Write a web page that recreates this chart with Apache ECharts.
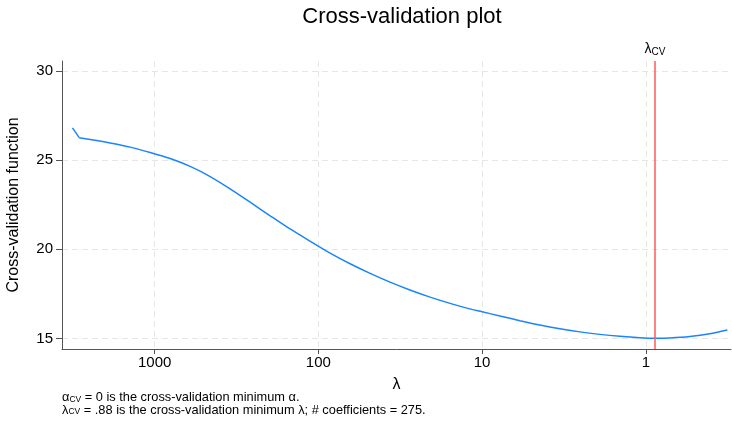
<!DOCTYPE html>
<html>
<head>
<meta charset="utf-8">
<script src="https://cdn.jsdelivr.net/npm/echarts@6/dist/echarts.min.js"></script>
<style>
html,body{margin:0;padding:0;background:#fff;}
#chart{width:732px;height:430px;}
</style>
</head>
<body>
<div id="chart"></div>
<script>
// Data
var lambdaValues = [3176, 2891, 2364, 1869, 1411, 1065, 804, 607, 458, 346, 261, 197, 149, 112, 84.8, 64.0, 48.3, 36.5, 27.6, 20.8, 15.7, 11.9, 10.0, 7.79, 5.88, 4.44, 3.35, 2.53, 1.91, 1.44, 1.09, 0.88, 0.714, 0.539, 0.407, 0.318];
var cvValues     = [26.81, 26.26, 26.13, 25.96, 25.73, 25.43, 25.09, 24.65, 24.08, 23.39, 22.64, 21.88, 21.14, 20.45, 19.79, 19.19, 18.65, 18.16, 17.72, 17.32, 16.97, 16.66, 16.50, 16.26, 16.00, 15.76, 15.55, 15.37, 15.23, 15.12, 15.04, 15.01, 15.03, 15.11, 15.26, 15.47];
var xTickValues = [1000, 100, 10, 1];
var yTickValues = [15, 20, 25, 30];
var lambdaCV = 0.88;
var titleText = 'Cross-validation plot';
var yAxisTitle = 'Cross-validation function';
var xAxisTitle = 'λ';

var FONT = '"Liberation Sans", Arial, sans-serif';
var chart = echarts.init(document.getElementById('chart'), null, {renderer: 'canvas'});

var points = lambdaValues.map(function (l, i) { return [l, cvValues[i]]; });
var headPoints = points.slice(0, 2);
var bodyPoints = points.slice(1);

chart.setOption({
  animation: false,
  backgroundColor: '#ffffff',
  title: {
    text: titleText,
    left: 397, top: 1, textAlign: 'center',
    textStyle: {fontFamily: FONT, fontSize: 22, fontWeight: 'normal', color: '#000'}
  },
  grid: {left: 62, right: 1, top: 61, bottom: 81, containLabel: false, outerBoundsMode: 'none'},
  xAxis: {
    type: 'log', logBase: 10, inverse: true,
    min: 0.302, max: 3680,
    name: xAxisTitle, nameLocation: 'middle', nameGap: 28,
    nameTextStyle: {fontFamily: FONT, fontSize: 16, color: '#000'},
    axisLine: {show: true, onZero: false, lineStyle: {color: '#555', width: 1}},
    axisTick: {show: true, length: 5, customValues: xTickValues, lineStyle: {color: '#555'}},
    axisLabel: {customValues: xTickValues, fontFamily: FONT, fontSize: 15, color: '#000', margin: 6,
      formatter: function (v) { return String(v); }},
    splitLine: {show: true, lineStyle: {color: '#e6e6e6', type: [6, 4], width: 1}},
    minorTick: {show: false}
  },
  yAxis: {
    type: 'value', min: 14.41, max: 30.56,
    name: yAxisTitle, nameLocation: 'middle', nameGap: 40, nameRotate: 90,
    nameTextStyle: {fontFamily: FONT, fontSize: 16, color: '#000'},
    axisLine: {show: true, onZero: false, lineStyle: {color: '#555', width: 1}},
    axisTick: {show: true, length: 6, customValues: yTickValues, lineStyle: {color: '#555'}},
    axisLabel: {customValues: yTickValues, fontFamily: FONT, fontSize: 15, color: '#000', margin: 9},
    splitLine: {show: true, lineStyle: {color: '#e6e6e6', type: [6, 4], width: 1}}
  },
  series: [{
    type: 'line',
    data: headPoints,
    showSymbol: false,
    lineStyle: {color: '#1a85ff', width: 1.5}
  }, {
    type: 'line',
    data: bodyPoints,
    showSymbol: false,
    smooth: 0.25,
    lineStyle: {color: '#1a85ff', width: 1.5},
    markLine: {
      silent: true,
      symbol: ['none', 'none'],
      lineStyle: {color: '#ff5a5a', width: 1.5, type: 'solid'},
      label: {
        show: true, position: 'end', distance: 4,
        formatter: '{l|λ}{s|CV}',
        rich: {
          l: {fontFamily: FONT, fontSize: 14, color: '#000'},
          s: {fontFamily: FONT, fontSize: 10, color: '#000', verticalAlign: 'bottom', padding: [6, 0, 0, 0]}
        }
      },
      data: [{xAxis: lambdaCV}]
    }
  }],
  graphic: [{
    type: 'text', left: 62, top: 391,
    style: {
      text: '{g|α}{s|CV}{t| = 0 is the cross-validation minimum α.}\n{g|λ}{s|CV}{t| = .88 is the cross-validation minimum λ; # coefficients = 275.}',
      rich: {
        g: {fontFamily: FONT, fontSize: 12.8, color: '#000', lineHeight: 12.5},
        s: {fontFamily: FONT, fontSize: 8.5, color: '#000', lineHeight: 12.5, padding: [4, 0, 0, 0]},
        t: {fontFamily: FONT, fontSize: 12.8, color: '#000', lineHeight: 12.5}
      }
    }
  }]
});
</script>
</body>
</html>
